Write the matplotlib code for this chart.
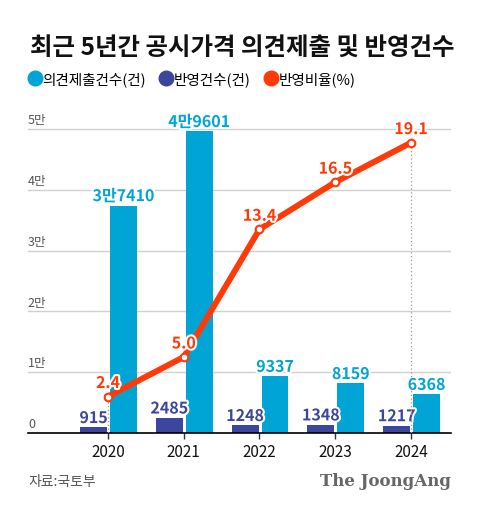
import matplotlib.pyplot as plt
import matplotlib.patheffects as pe
from matplotlib.lines import Line2D
import numpy as np

plt.rcParams['font.family'] = ['Noto Sans CJK KR', 'DejaVu Sans']

years = ['2020', '2021', '2022', '2023', '2024']
submitted = [37410, 49601, 9337, 8159, 6368]
submitted_lbl = ['3만7410', '4만9601', '9337', '8159', '6368']
reflected = [915, 2485, 1248, 1348, 1217]
ratio = [2.4, 5.0, 13.4, 16.5, 19.1]
yticks = [0, 10000, 20000, 30000, 40000, 50000]
ytick_lbl = ['0', '1만', '2만', '3만', '4만', '5만']

c_sub = '#00a5d5'
c_ref = '#3a479c'
c_line = '#ff3a08'

fig = plt.figure(figsize=(4.8, 5.1), dpi=100)
ax = fig.add_axes([0.0583, 0.149, 0.8813, 0.620])
x = np.arange(len(years))
w = 0.355

halo = [pe.withStroke(linewidth=3, foreground='white')]

ax.bar(x - 0.19, reflected, w, color=c_ref, zorder=2)
ax.bar(x + 0.205, submitted, w, color=c_sub, zorder=2)

for i in range(len(years)):
    ax.annotate(str(reflected[i]), (x[i] - 0.19, reflected[i]), xytext=(0, 1),
                textcoords='offset points', ha='center', va='bottom',
                fontsize=11.5, fontweight='bold', color=c_ref, path_effects=halo, zorder=5)
    ax.annotate(submitted_lbl[i], (x[i] + 0.205, submitted[i]), xytext=(0, 1),
                textcoords='offset points', ha='center', va='bottom',
                fontsize=11.5, fontweight='bold', color=c_sub, path_effects=halo, zorder=5)

ax.set_xlim(-1.056, 4.528)
ax.set_ylim(0, 52000)
for v in yticks[1:]:
    ax.axhline(v, color='#d0d0d0', lw=1, zorder=0)
for v, t in zip(yticks, ytick_lbl):
    ax.annotate(t, (-1.056, v), xytext=(0, 2), textcoords='offset points',
                ha='left', va='bottom', fontsize=9, color='#555555')
ax.set_yticks([])
ax.set_xticks(x)
ax.set_xticklabels(years, fontsize=11, color='#111111')
ax.tick_params(axis='x', length=4, width=1, color='#333333', pad=3)
for s in ['top', 'right', 'left']:
    ax.spines[s].set_visible(False)
ax.spines['bottom'].set_color('black')
ax.spines['bottom'].set_linewidth(1.2)
ax.spines['bottom'].set_zorder(6)

ax2 = ax.twinx()
ax2.set_ylim(0, 52000 / 2500)
ax2.axis('off')
for i in [0, 4]:
    ax2.plot([x[i], x[i]], [0, ratio[i]], color='#999999', lw=0.9, ls=(0, (1, 2)), zorder=1)
ax2.plot(x, ratio, color=c_line, lw=4.3, marker='o', markersize=5.5,
         markerfacecolor='white', markeredgecolor=c_line, markeredgewidth=1.5, zorder=4)
for i in range(len(years)):
    ax2.annotate(f'{ratio[i]:.1f}', (x[i], ratio[i]), xytext=(0, 4),
                 textcoords='offset points', ha='center', va='bottom',
                 fontsize=11.5, fontweight='bold', color=c_line, path_effects=halo, zorder=6)

fig.text(0.0625, 0.907, '최근 5년간 공시가격 의견제출 및 반영건수', fontsize=17.6,
         fontweight='heavy', color='#111111', va='center', ha='left')

handles = [Line2D([], [], marker='o', ls='none', markersize=10.5, color=c) for c in (c_sub, c_ref, c_line)]
fig.legend(handles, ['의견제출건수(건)', '반영건수(건)', '반영비율(%)'], loc='center left',
           bbox_to_anchor=(0.058, 0.843), ncol=3, frameon=False, fontsize=10.5,
           handletextpad=0.0, columnspacing=0.9, handlelength=1.0, borderpad=0, borderaxespad=0)

fig.text(0.0583, 0.055, '자료:국토부', fontsize=10, color='#555555', va='center', ha='left')
fig.text(0.94, 0.055, 'The JoongAng', fontsize=12, fontweight='bold', family='DejaVu Serif',
         color='#666666', va='center', ha='right')

fig.savefig('out.png', dpi=100)
